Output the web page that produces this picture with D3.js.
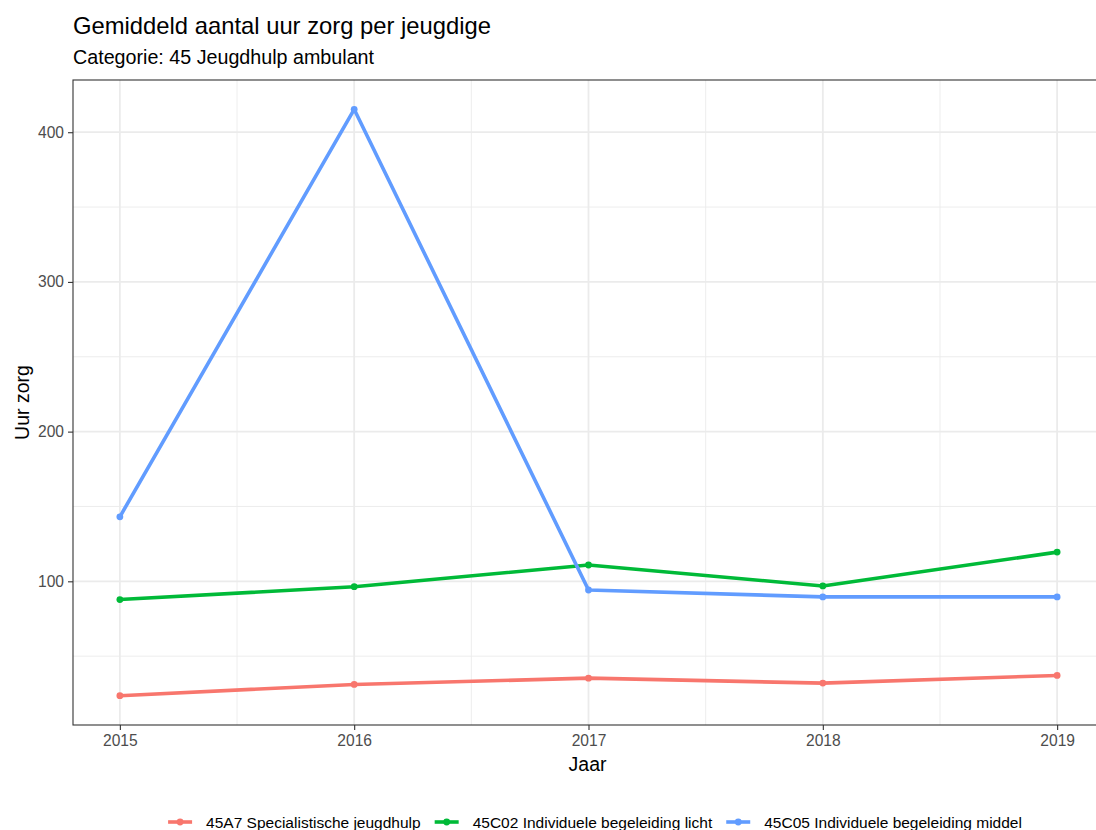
<!DOCTYPE html>
<html>
<head>
<meta charset="utf-8">
<script src="https://cdn.jsdelivr.net/npm/d3@7"></script>
<style>
  html, body { margin: 0; padding: 0; background: #fff; overflow: hidden; }
  text { font-family: "Liberation Sans", Arial, Helvetica, sans-serif; }
</style>
</head>
<body>
<div id="chart"></div>
<script>
const years = [2015, 2016, 2017, 2018, 2019];
const seriesNames = [
  "45A7 Specialistische jeugdhulp",
  "45C02 Individuele begeleiding licht",
  "45C05 Individuele begeleiding middel"
];
const seriesColors = ["#F8766D", "#00BA38", "#619CFF"];
const specialistisch = [23.6, 31.1, 35.3, 32.0, 37.1];
const begeleidingLicht = [87.8, 96.4, 110.9, 96.9, 119.5];
const begeleidingMiddel = [143.1, 415.3, 94.2, 89.6, 89.6];
const yTicks = [100, 200, 300, 400];
const yMinor = [50, 150, 250, 350];

const width = 1110;
const height = 830;
const margin = { top: 80, right: 6, bottom: 105, left: 73 };

const series = [specialistisch, begeleidingLicht, begeleidingMiddel].map((vals, i) => ({
  name: seriesNames[i],
  color: seriesColors[i],
  values: vals.map((v, j) => ({ year: years[j], value: v }))
}));

const svg = d3.select("#chart").append("svg")
  .attr("width", width)
  .attr("height", height);

// ggplot style 5% expansion
const xExt = d3.extent(years);
const xPad = (xExt[1] - xExt[0]) * 0.05;
const allVals = series.flatMap(s => s.values.map(d => d.value));
const yExt = d3.extent(allVals);
const yPad = (yExt[1] - yExt[0]) * 0.05;

const x = d3.scaleLinear()
  .domain([xExt[0] - xPad, xExt[1] + xPad])
  .range([margin.left, width - margin.right]);

const y = d3.scaleLinear()
  .domain([yExt[0] - yPad, yExt[1] + yPad])
  .range([height - margin.bottom, margin.top]);

const x0 = margin.left, x1 = width - margin.right;
const y0 = margin.top, y1 = height - margin.bottom;

// grid
const grid = svg.append("g");
grid.selectAll(".minor-y")
  .data(yMinor)
  .enter().append("line")
    .attr("x1", x0).attr("x2", x1)
    .attr("y1", d => y(d)).attr("y2", d => y(d))
    .attr("stroke", "#EBEBEB")
    .attr("stroke-width", 0.9);
grid.selectAll(".minor-x")
  .data(years.slice(0, -1).map(d => d + 0.5))
  .enter().append("line")
    .attr("x1", d => x(d)).attr("x2", d => x(d))
    .attr("y1", y0).attr("y2", y1)
    .attr("stroke", "#EBEBEB")
    .attr("stroke-width", 0.9);
grid.selectAll(".major-y")
  .data(yTicks)
  .enter().append("line")
    .attr("x1", x0).attr("x2", x1)
    .attr("y1", d => y(d)).attr("y2", d => y(d))
    .attr("stroke", "#EBEBEB")
    .attr("stroke-width", 1.8);
grid.selectAll(".major-x")
  .data(years)
  .enter().append("line")
    .attr("x1", d => x(d)).attr("x2", d => x(d))
    .attr("y1", y0).attr("y2", y1)
    .attr("stroke", "#EBEBEB")
    .attr("stroke-width", 1.8);

// lines and points
const line = d3.line()
  .x(d => x(d.year))
  .y(d => y(d.value));

const groups = svg.selectAll(".series")
  .data(series)
  .enter().append("g");

groups.append("path")
  .attr("d", d => line(d.values))
  .attr("fill", "none")
  .attr("stroke", d => d.color)
  .attr("stroke-width", 3.6)
  .attr("stroke-linejoin", "round");

groups.selectAll("circle")
  .data(d => d.values.map(v => ({ ...v, color: d.color })))
  .enter().append("circle")
    .attr("cx", d => x(d.year))
    .attr("cy", d => y(d.value))
    .attr("r", 3.4)
    .attr("fill", d => d.color);

// panel border
svg.append("rect")
  .attr("x", x0).attr("y", y0)
  .attr("width", x1 - x0).attr("height", y1 - y0)
  .attr("fill", "none")
  .attr("stroke", "#333333")
  .attr("stroke-width", 1.1);

// axes
const xAxis = svg.append("g")
  .attr("transform", `translate(0,${y1})`)
  .call(d3.axisBottom(x).tickValues(years).tickFormat(d3.format("d")).tickSize(5).tickPadding(5));
const yAxis = svg.append("g")
  .attr("transform", `translate(${x0},0)`)
  .call(d3.axisLeft(y).tickValues(yTicks).tickSize(5).tickPadding(4));

[xAxis, yAxis].forEach(a => {
  a.select(".domain").remove();
  a.selectAll(".tick line").attr("stroke", "#333333").attr("stroke-width", 1.1);
  a.selectAll(".tick text")
    .attr("fill", "#4D4D4D")
    .style("font-size", "15.6px")
    .style("font-family", '"Liberation Sans", Arial, sans-serif');
});

// titles
svg.append("text")
  .attr("x", x0).attr("y", 34)
  .style("font-size", "23.8px")
  .attr("fill", "#000")
  .text("Gemiddeld aantal uur zorg per jeugdige");
svg.append("text")
  .attr("x", x0).attr("y", 64)
  .style("font-size", "19.7px")
  .attr("fill", "#000")
  .text("Categorie: 45 Jeugdhulp ambulant");

svg.append("text")
  .attr("x", (x0 + x1) / 2 - 1).attr("y", 771)
  .attr("text-anchor", "middle")
  .style("font-size", "19.5px")
  .text("Jaar");

svg.append("text")
  .attr("transform", `translate(29,${(y0 + y1) / 2}) rotate(-90)`)
  .attr("text-anchor", "middle")
  .style("font-size", "19.5px")
  .text("Uur zorg");

// legend
const legend = svg.append("g");
const items = legend.selectAll(".item")
  .data(series)
  .enter().append("g");

items.append("line")
  .attr("x1", 0).attr("x2", 24)
  .attr("y1", 0).attr("y2", 0)
  .attr("stroke", d => d.color)
  .attr("stroke-width", 3.6);
items.append("circle")
  .attr("cx", 12).attr("cy", 0)
  .attr("r", 3.4)
  .attr("fill", d => d.color);
items.append("text")
  .attr("x", 38).attr("y", 5.5)
  .style("font-size", "15.5px")
  .attr("fill", "#000")
  .text(d => d.name);

let offset = 0;
const offsets = [];
items.each(function() {
  offsets.push(offset);
  const w = d3.select(this).select("text").node().getComputedTextLength();
  offset += 38 + w + 14;
});
const total = offset - 14;
const startX = 595 - total / 2;
items.attr("transform", (d, i) => `translate(${startX + offsets[i]},822)`);
</script>
</body>
</html>
